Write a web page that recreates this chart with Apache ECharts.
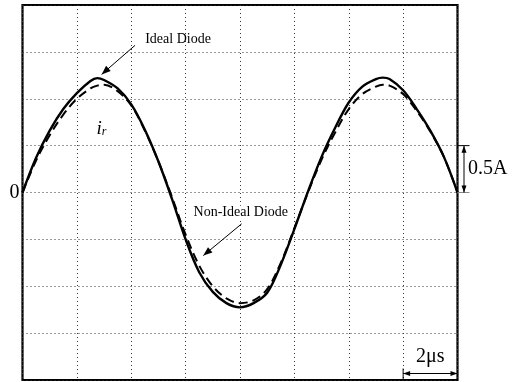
<!DOCTYPE html>
<html>
<head>
<meta charset="utf-8">
<script src="https://cdn.jsdelivr.net/npm/echarts@6/dist/echarts.min.js"></script>
<style>
html,body{margin:0;padding:0;background:#fff;}
#chart{width:519px;height:382px;}
</style>
</head>
<body>
<div id="chart"></div>
<script>
// time in microseconds
const times = [0,0.5,1,1.5,2,2.5,2.75,3,3.5,4,4.5,5,5.5,6,6.5,7,7.5,8,8.5,9,9.5,10,10.5,11,11.5,12,12.5,13,13.25,13.5,14,14.5,15,15.5,16];
// current i_r in A
const idealDiode = [0,0.37,0.66,0.89,1.06,1.19,1.22,1.20,1.11,0.94,0.67,0.33,-0.07,-0.50,-0.85,-1.06,-1.18,-1.225,-1.18,-1.07,-0.77,-0.39,0.01,0.38,0.69,0.96,1.13,1.21,1.225,1.21,1.09,0.89,0.66,0.38,0.0];
const nonIdealDiode = [0,0.34,0.61,0.83,1.00,1.11,1.14,1.15,1.08,0.93,0.66,0.33,-0.05,-0.45,-0.78,-1.00,-1.13,-1.18,-1.15,-1.03,-0.75,-0.38,0.0,0.35,0.64,0.89,1.05,1.13,1.15,1.14,1.05,0.87,0.65,0.38,0.0];
const xTicks = {min:0, max:16, interval:2};
const yTicks = {min:-2, max:2, interval:0.5};

const FONT = "'Liberation Serif','Times New Roman',serif";
const chart = echarts.init(document.getElementById('chart'), null, {renderer:'canvas'});
const gridSplit = {show:true, lineStyle:{color:'#333', width:1, type:[1,3]}};
chart.setOption({
  animation:false,
  backgroundColor:'#fff',
  grid:{left:22.5, top:5, width:435, height:375, show:true, borderColor:'#000', borderWidth:2.2, backgroundColor:'transparent'},
  xAxis:{type:'value', min:xTicks.min, max:xTicks.max, interval:xTicks.interval,
    axisLine:{show:false}, axisTick:{show:false}, axisLabel:{show:false}, splitLine:gridSplit},
  yAxis:{type:'value', min:yTicks.min, max:yTicks.max, interval:yTicks.interval,
    axisLine:{show:false}, axisTick:{show:false},
    axisLabel:{show:true, margin:3, fontFamily:FONT, fontSize:20, color:'#000',
      formatter:function(v){return v===0?'0':'';}},
    splitLine:gridSplit},
  series:[
    {name:'Non-Ideal Diode', type:'line', smooth:0.35, symbol:'none',
      data:times.map((t,i)=>[t,nonIdealDiode[i]]),
      lineStyle:{color:'#000', width:2, type:[9,5]}, z:3},
    {name:'Ideal Diode', type:'line', smooth:0.35, symbol:'none',
      data:times.map((t,i)=>[t,idealDiode[i]]),
      lineStyle:{color:'#000', width:2.4}, z:4}
  ]
});

function px(x,y){return chart.convertToPixel({gridIndex:0},[x,y]);}
function arrowHead(tip, from, len, half){
  const dx=tip[0]-from[0], dy=tip[1]-from[1];
  const L=Math.sqrt(dx*dx+dy*dy); const ux=dx/L, uy=dy/L;
  const bx=tip[0]-ux*len, by=tip[1]-uy*len;
  return {type:'polygon', shape:{points:[tip,[bx-uy*half,by+ux*half],[bx+uy*half,by-ux*half]]}, style:{fill:'#000'}, z:10};
}
function arrow(a,b){
  return [
    {type:'line', shape:{x1:a[0],y1:a[1],x2:b[0],y2:b[1]}, style:{stroke:'#000', lineWidth:1}, z:10},
    arrowHead(b,a,9,3.5)
  ];
}
const els = [];
// annotations
const t1 = px(5.72,1.63);
els.push({type:'text', x:t1[0], y:t1[1], style:{text:'Ideal Diode', font:'14px '+FONT, fill:'#000', align:'center', verticalAlign:'middle'}, z:10});
els.push(...arrow(px(4.14,1.57), px(2.91,1.26)));
const t2 = px(8.03,-0.215);
els.push({type:'text', x:t2[0], y:t2[1], style:{text:'Non-Ideal Diode', font:'14px '+FONT, fill:'#000', align:'center', verticalAlign:'middle', backgroundColor:'#fff'}, z:10});
els.push(...arrow(px(8.06,-0.334), px(6.65,-0.673)));
const ir = px(2.72,0.58);
els.push({type:'text', x:ir[0], y:ir[1], style:{text:'{i|i}{r|r}', font:'18px '+FONT, fill:'#000', verticalAlign:'bottom',
  rich:{i:{fontFamily:FONT, fontStyle:'italic', fontSize:19, fill:'#000'}, r:{fontFamily:FONT, fontStyle:'italic', fontSize:12, fill:'#000', padding:[7,0,0,0]}}}, z:10});
// 0.5A scale marker
const gRight = px(16,0)[0];
const yTop = px(16,0.5)[1], yBot = px(16,0)[1];
const mx = gRight + 6.5;
els.push({type:'line', shape:{x1:gRight,y1:yTop,x2:gRight+12,y2:yTop}, style:{stroke:'#000', lineWidth:1}, z:10});
els.push({type:'line', shape:{x1:gRight,y1:yBot,x2:gRight+12,y2:yBot}, style:{stroke:'#888', lineWidth:1}, z:10});
els.push({type:'line', shape:{x1:mx,y1:yTop,x2:mx,y2:yBot}, style:{stroke:'#000', lineWidth:1}, z:10});
els.push(arrowHead([mx,yTop],[mx,yBot],7,2.5));
els.push(arrowHead([mx,yBot],[mx,yTop],7,2.5));
els.push({type:'text', x:mx+4, y:(yTop+yBot)/2, style:{text:'0.5A', font:'20px '+FONT, fill:'#000', verticalAlign:'middle'}, z:10});
// 2us scale marker
const xL = px(14,-2)[0], xR = px(16,-2)[0];
const yB = px(14,-2)[1];
const ay = yB - 6.5;
els.push({type:'line', shape:{x1:xL,y1:ay-5,x2:xL,y2:yB}, style:{stroke:'#000', lineWidth:1}, z:10});
els.push({type:'line', shape:{x1:xL,y1:ay,x2:xR,y2:ay}, style:{stroke:'#000', lineWidth:1}, z:10});
els.push(arrowHead([xL,ay],[xR,ay],7,2.5));
els.push(arrowHead([xR,ay],[xL,ay],7,2.5));
els.push({type:'text', x:(xL+xR)/2, y:ay-7, style:{text:'2μs', font:'20px '+FONT, fill:'#000', align:'center', verticalAlign:'bottom'}, z:10});
chart.setOption({graphic:{elements:els}});
</script>
</body>
</html>
